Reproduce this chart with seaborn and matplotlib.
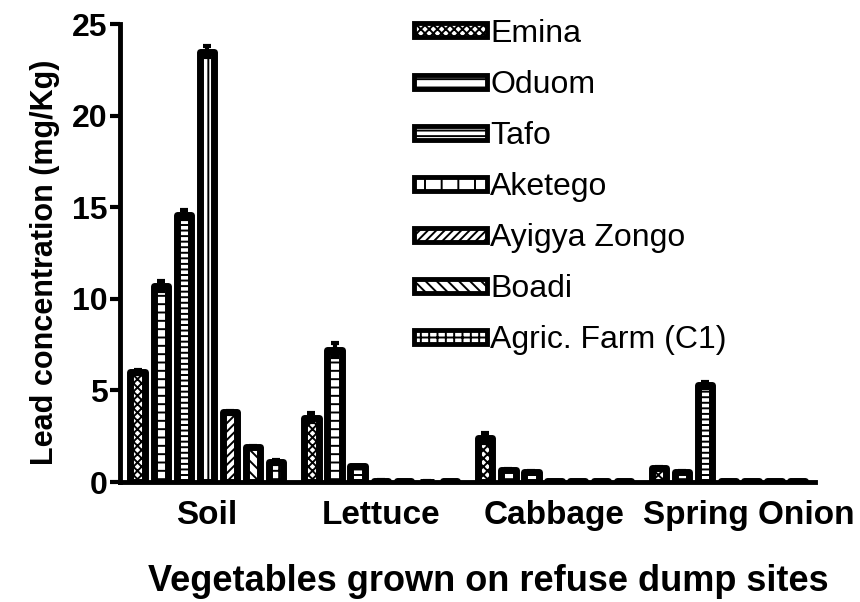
import pandas as pd
import matplotlib
matplotlib.use("Agg")
import matplotlib.pyplot as plt
import matplotlib.transforms as mtransforms
import seaborn as sns

# Lead concentration (mg/Kg)
vegetables = ["Soil", "Lettuce", "Cabbage", "Spring Onion"]
sites = ["Emina", "Oduom", "Tafo", "Aketego", "Ayigya Zongo", "Boadi", "Agric. Farm (C1)"]

emina = [6.0, 3.5, 2.4, 0.75]
oduom = [10.7, 7.2, 0.65, 0.55]
tafo = [14.6, 0.85, 0.55, 5.3]
aketego = [23.5, 0.08, 0.05, 0.05]
ayigya = [3.8, 0.05, 0.04, 0.04]
boadi = [1.9, 0.02, 0.03, 0.03]
agric = [1.1, 0.03, 0.03, 0.04]

emina_err = [0.1, 0.25, 0.25, 0.05]
oduom_err = [0.25, 0.4, 0.05, 0.05]
tafo_err = [0.25, 0.05, 0.05, 0.15]
aketego_err = [0.3, 0.02, 0.02, 0.02]
ayigya_err = [0.1, 0.02, 0.02, 0.02]
boadi_err = [0.05, 0.01, 0.01, 0.01]
agric_err = [0.1, 0.01, 0.01, 0.01]

values = [emina, oduom, tafo, aketego, ayigya, boadi, agric]
errors = [emina_err, oduom_err, tafo_err, aketego_err, ayigya_err, boadi_err, agric_err]
hatches = ["xxxx", "--", "---", "|", "////", "\\\\\\", "++"]

rows = []
for site, vals, errs in zip(sites, values, errors):
    for veg, v, e in zip(vegetables, vals, errs):
        rows.append({"Vegetable": veg, "Site": site, "Lead": v, "Err": e})
df = pd.DataFrame(rows)

sns.set_style("ticks")
plt.rcParams["font.family"] = ["Liberation Sans", "DejaVu Sans"]
plt.rcParams["hatch.linewidth"] = 1.4
plt.rcParams["text.color"] = "black"
plt.rcParams["axes.labelcolor"] = "black"
plt.rcParams["xtick.color"] = "black"
plt.rcParams["ytick.color"] = "black"
plt.rcParams["axes.edgecolor"] = "black"

fig = plt.figure(figsize=(8.6, 6.02), dpi=100)
ax = fig.add_axes([0.1395, 0.1993, 0.8085, 0.7607])

sns.barplot(data=df, x="Vegetable", y="Lead", hue="Site", hue_order=sites,
            order=vegetables, errorbar=None, width=0.93, gap=0.38,
            palette=["white"] * 7, edgecolor="black", linewidth=5, ax=ax)

# hatch patterns and error bars per series
for cont, hatch, site in zip(ax.containers, hatches, sites):
    sub = df[df["Site"] == site].set_index("Vegetable").loc[vegetables]
    for bar, err in zip(cont, sub["Err"]):
        bar.set_hatch(hatch)
        bar.set_joinstyle("round")
        ax.errorbar(bar.get_x() + bar.get_width() / 2, bar.get_height(), yerr=err,
                    fmt="none", ecolor="black", elinewidth=3, capsize=3, capthick=3,
                    zorder=1)

ax.set_ylim(0, 25)
ax.set_xlim(-0.5, 3.5)
ax.set_yticks([0, 5, 10, 15, 20, 25])
ax.tick_params(axis="y", width=3, length=7, labelsize=23, pad=2)
ax.tick_params(axis="x", length=0, labelsize=24, pad=13)
for lab in ax.get_xticklabels() + ax.get_yticklabels():
    lab.set_fontweight("bold")
# last category label sits a little right of its group in the original
last = ax.get_xticklabels()[-1]
last.set_transform(last.get_transform() + mtransforms.ScaledTranslation(0.2, 0, fig.dpi_scale_trans))
for side in ["left", "bottom"]:
    ax.spines[side].set_linewidth(3.5)
sns.despine(ax=ax)

ax.set_ylabel("Lead concentration (mg/Kg)", fontsize=22, fontweight="bold")
ax.yaxis.set_label_coords(-0.086, 0.48)
ax.set_xlabel("Vegetables grown on refuse dump sites", fontsize=26, fontweight="bold")
ax.xaxis.set_label_coords(0.53, -0.178)

handles, labels = ax.get_legend_handles_labels()
for h, hatch in zip(handles, hatches):
    h.set_hatch(hatch)
leg = ax.legend(handles, labels, loc="upper left", bbox_to_anchor=(0.39, 1.06), frameon=False,
                fontsize=23, handlelength=2.3, handleheight=0.3, labelspacing=0.66,
                handletextpad=0.1, borderpad=0.2)
for h in leg.legend_handles:
    h.set_linewidth(3.5)

fig.savefig("out.png", dpi=100)
